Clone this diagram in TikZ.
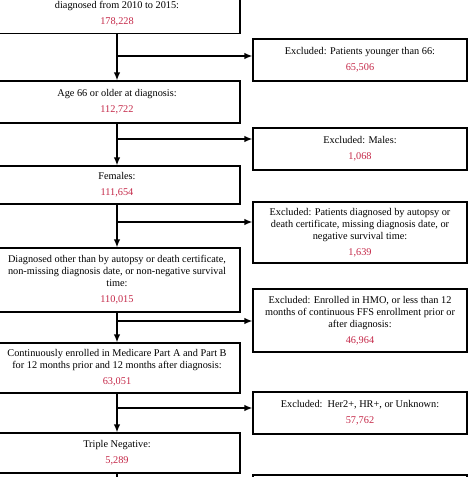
\documentclass[tikz,border=0pt]{standalone}
\usepackage{fontspec}
\setmainfont{Liberation Serif}
\usetikzlibrary{arrows.meta}
\definecolor{numred}{RGB}{196,40,72}
\tikzset{
  box/.style={draw=black, line width=1.3pt, rectangle, align=center, inner sep=0pt,
    font=\fontsize{10.3}{12}\selectfont},
  lbox/.style={box, minimum width=246pt},
  rbox/.style={box, minimum width=214pt},
  flow/.style={line width=1.3pt, -{Latex[length=8pt,width=6.5pt]}},
  plain/.style={line width=1.3pt}
}
\newcommand{\num}[1]{\\[4pt]{\color{numred}#1}}
\begin{document}
\begin{tikzpicture}[x=1pt,y=-1pt]
\useasboundingbox (0,0) rectangle (473,477);
% left column
\node[lbox, minimum height=40pt] (top) at (117,13.5) {diagnosed from 2010 to 2015:\num{178,228}};
\node[lbox, minimum height=42pt] (age) at (117,102) {Age 66 or older at diagnosis:\num{112,722}};
\node[lbox, minimum height=38pt] (fem) at (117,185) {Females:\num{111,654}};
\node[lbox, minimum height=64pt] (dia) at (117,280) {Diagnosed other than by autopsy or death certificate,\\non-missing diagnosis date, or non-negative survival\\time:\num{110,015}};
\node[lbox, minimum height=50pt] (cont) at (117,368) {Continuously enrolled in Medicare Part A and Part B\\for 12 months prior and 12 months after diagnosis:\num{63,051}};
\node[lbox, minimum height=40pt] (tn) at (117,453) {Triple Negative:\num{5,289}};
% right column
\node[rbox, minimum height=42pt] (ex1) at (360,60) {Excluded: Patients younger than 66:\num{65,506}};
\node[rbox, minimum height=42pt] (ex2) at (360,149) {Excluded: Males:\num{1,068}};
\node[rbox, minimum height=61pt] (ex3) at (360,232.5) {Excluded: Patients diagnosed by autopsy or\\death certificate, missing diagnosis date, or\\negative survival time:\num{1,639}};
\node[rbox, minimum height=63pt] (ex4) at (360,320.5) {Excluded: Enrolled in HMO, or less than 12\\months of continuous FFS enrollment prior or\\after diagnosis:\num{46,964}};
\node[rbox, minimum height=42pt] (ex5) at (360,413) {Excluded:\ \ Her2+, HR+, or Unknown:\num{57,762}};
\node[rbox, minimum height=50pt] (ex6) at (360,500) {};
% trunk arrows
\draw[flow] (top) -- (age);
\draw[flow] (age) -- (fem);
\draw[flow] (fem) -- (dia);
\draw[flow] (dia) -- (cont);
\draw[flow] (cont) -- (tn);
\coordinate (end) at (117,490);
\draw[plain] (tn) -- (end);
% branch arrows
\coordinate (b1) at (117,56);
\coordinate (b2) at (117,139);
\coordinate (b3) at (117,222);
\coordinate (b4) at (117,321);
\coordinate (b5) at (117,408);
\draw[flow] (b1) -- (b1 -| ex1.west);
\draw[flow] (b2) -- (b2 -| ex2.west);
\draw[flow] (b3) -- (b3 -| ex3.west);
\draw[flow] (b4) -- (b4 -| ex4.west);
\draw[flow] (b5) -- (b5 -| ex5.west);
\end{tikzpicture}
\end{document}
